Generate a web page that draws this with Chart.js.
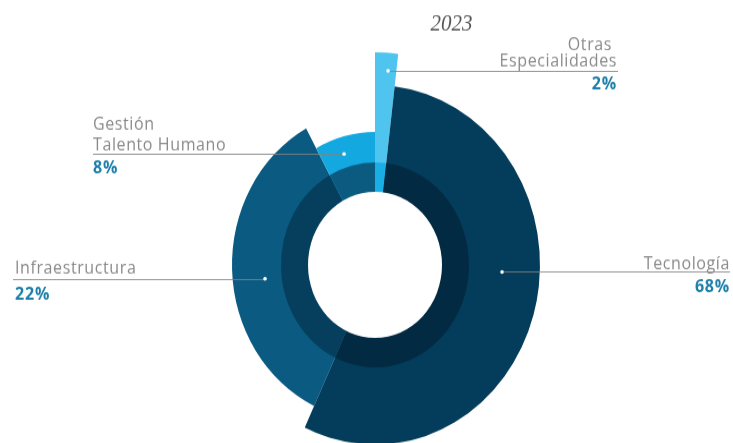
<!DOCTYPE html>
<html><head><meta charset="utf-8">
<script src="https://cdn.jsdelivr.net/npm/chart.js@4.4.1/dist/chart.umd.min.js"></script>
<style>
html,body{margin:0;padding:0;background:#fff;overflow:hidden;width:733px;height:443px;}
#wrap{position:absolute;left:0;top:0;width:733px;height:450px;transform:scaleY(1.09);transform-origin:0 0;}
canvas{display:block}
</style></head><body>
<div id="wrap"><canvas id="c" width="733" height="450" style="width:733px;height:450px"></canvas></div>
<script>
// ---- data ----
const title = '2023';
const categories = ['Otras Especialidades', 'Tecnología', 'Infraestructura', 'Gestión Talento Humano'];
const nameLines = [['Otras', 'Especialidades'], ['Tecnología'], ['Infraestructura'], ['Gestión', 'Talento Humano']];
const percentValues = [2, 68, 22, 8];
// angular share of each slice as drawn in the picture (percent of the full turn)
const arcShare = [1.9, 55.1, 35.0, 8.0];
// radial extent of each slice as drawn in the picture (same units as the radial scale)
const sliceReach = [195, 165, 143, 122];

// ---- styles ----
const baseColors = ['#4fc4ef', '#043d5b', '#0a5a81', '#13a8e0'];
const innerColors = ['#19aee6', '#032a43', '#063f5e', '#0b5a80'];
const innerRingRadius = 94, holeRadius = 67, scaleMax = 195;
const SY = 1.09;

const angles = arcShare.map(v => v * 3.6);
const datasets = [
  { data: arcShare.map(() => innerRingRadius), angle: angles, backgroundColor: innerColors, borderWidth: 0 },
  { data: sliceReach, angle: angles, backgroundColor: baseColors, borderWidth: 0 }
];

// label layout (dot polar position; text positions in picture pixels)
const labelLayout = [
  { angle: 4.2, r: 178.5, align: 'right', nameX: [612, 617], nameBase: [50, 66], pctX: 617, pctBase: 89.3, lineEnd: 618 },
  { angle: 92.9, r: 127.2, align: 'right', nameX: [730], nameBase: [269.3], pctX: 730, pctBase: 291.7, lineEnd: 730 },
  { angle: 263.4, r: 110.7, align: 'left', nameX: [15], nameBase: [274], pctX: 15, pctBase: 299.3, lineEnd: 13 },
  { angle: 343.1, r: 106.4, align: 'left', nameX: [93, 93], nameBase: [129.3, 150], pctX: 93, pctBase: 173.3, lineEnd: 93 }
];

const annot = {
  id: 'annot',
  afterDatasetsDraw(chart) {
    const ctx = chart.ctx;
    const sc = chart.scales.r;
    const cx = sc.xCenter, cy = sc.yCenter;
    ctx.save();
    ctx.fillStyle = '#ffffff';
    ctx.beginPath();
    ctx.arc(cx, cy, sc.getDistanceFromCenterForValue(holeRadius), 0, Math.PI * 2);
    ctx.fill();
    // title
    ctx.font = 'italic 21px "Liberation Serif"';
    ctx.fillStyle = '#555';
    ctx.textAlign = 'center';
    ctx.fillText(title, 451.5, 30 / SY);
    labelLayout.forEach((L, i) => {
      const a = L.angle * Math.PI / 180;
      const rr = sc.getDistanceFromCenterForValue(L.r);
      const dx = cx + rr * Math.sin(a), dy = cy - rr * Math.cos(a);
      ctx.strokeStyle = 'rgba(130,130,130,0.85)';
      ctx.lineWidth = 1;
      ctx.beginPath();
      ctx.moveTo(dx, Math.round(dy) + 0.5);
      ctx.lineTo(L.lineEnd, Math.round(dy) + 0.5);
      ctx.stroke();
      ctx.fillStyle = '#ffffff';
      ctx.beginPath();
      ctx.arc(dx, dy, 1.8, 0, Math.PI * 2);
      ctx.fill();
      ctx.textAlign = L.align;
      ctx.fillStyle = '#8a8a8a';
      ctx.font = '16px "Open Sans"';
      ctx.letterSpacing = '0.6px';
      nameLines[i].forEach((t, k) => ctx.fillText(t, L.nameX[k], L.nameBase[k] / SY));
      ctx.fillStyle = '#1b7faa';
      ctx.font = 'bold 16px "Open Sans"';
      ctx.letterSpacing = '0.8px';
      ctx.fillText(percentValues[i] + '%', L.pctX, L.pctBase / SY);
    });
    ctx.restore();
  }
};

const cx0 = 375, cy0 = 265 / SY, R = 195;
new Chart(document.getElementById('c'), {
  type: 'polarArea',
  data: { labels: categories, datasets },
  options: {
    responsive: false,
    animation: false,
    events: [],
    layout: { padding: { left: cx0 - R, right: 733 - (cx0 + R), top: cy0 - R, bottom: 450 - (cy0 + R) } },
    scales: { r: { display: false, min: 0, max: scaleMax } },
    plugins: { legend: { display: false }, tooltip: { enabled: false }, title: { display: false } }
  },
  plugins: [annot]
});
</script>
</body></html>
